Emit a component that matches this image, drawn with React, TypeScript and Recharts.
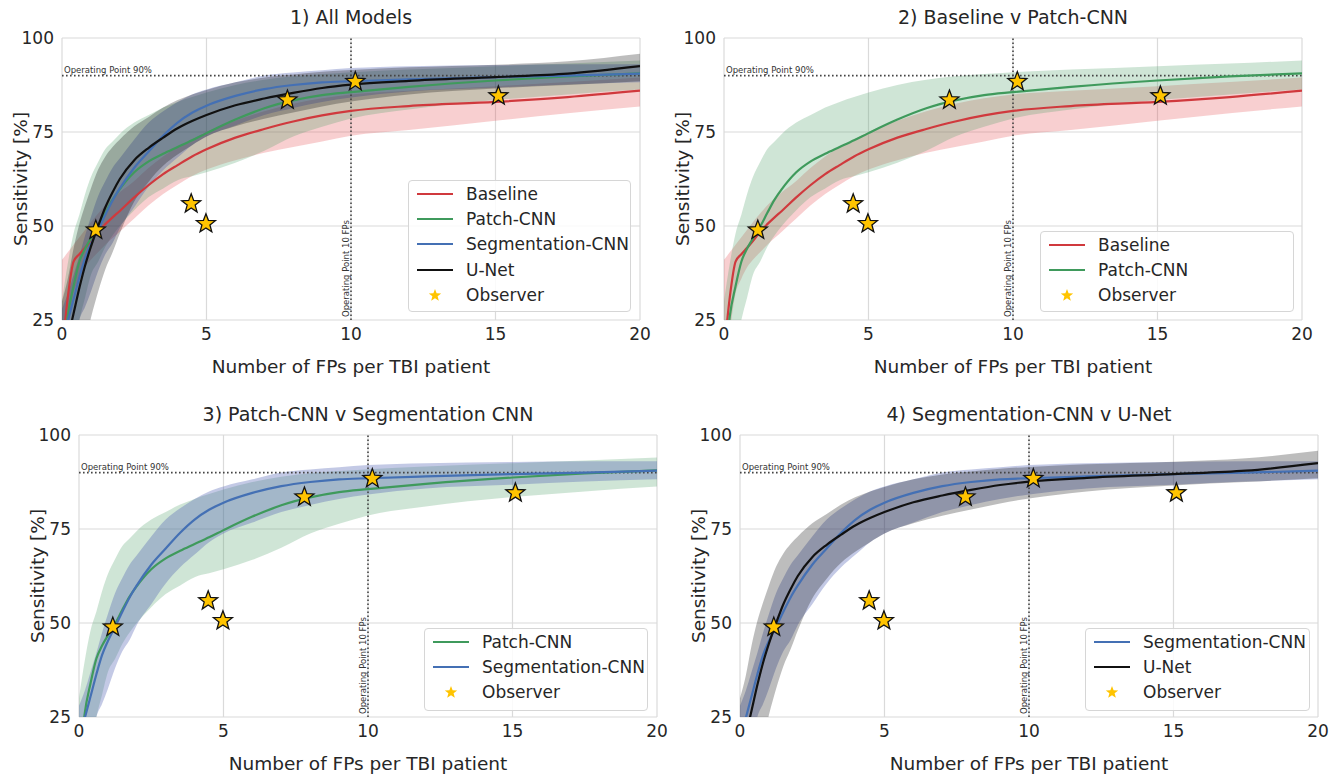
import React from 'react';
import { ComposedChart, Line, Area, Scatter, XAxis, YAxis, CartesianGrid, ReferenceLine, Legend } from 'recharts';

const FONT = '"DejaVu Sans", Verdana, sans-serif';
const TEXT = '#262626';

// FPs per patient (x grid shared by all curves)
const fps = [0, 0.2, 0.4, 0.6, 0.8, 1, 1.25, 1.5, 1.75, 2, 2.5, 3, 3.5, 4, 4.5, 5, 6, 7, 8, 9, 10, 12, 15, 17.5, 20];

// sensitivity [%] per model: mean curve and band
const baselineSens = [16, 31, 40.5, 42.5, 44.2, 46, 48.5, 50.5, 52.3, 54, 57.6, 60.9, 63.8, 66.2, 68.5, 70.4, 73.5, 75.8, 77.8, 79.4, 80.6, 81.9, 83, 84.3, 86];
const baselineLow = [10, 22, 32, 36, 39, 41, 43, 45, 46.8, 48.5, 52, 55.5, 58.5, 61, 63.3, 65, 67.5, 69.5, 71, 72.5, 74, 75.5, 78, 80, 81.8];
const baselineHigh = [41, 43, 45, 47, 49, 51, 53.3, 55.5, 57.3, 59, 62, 65.5, 68.5, 71, 73, 75, 78, 80.5, 82.5, 84, 85, 86, 87.2, 88.3, 89.5];

const patchSens = [10, 26, 34, 40.5, 44, 46.7, 49.8, 53.5, 57, 59.8, 64.3, 67.2, 69.2, 71, 72.8, 74.7, 78.3, 81.3, 83.4, 84.8, 85.6, 87, 88.7, 89.8, 90.6];
const patchLow = [5, 10, 17, 25, 31, 37, 40.5, 44.5, 47.5, 50, 54.2, 57.7, 60, 62.2, 63.2, 64.3, 66.8, 70, 73.8, 76.4, 78.6, 81, 83.5, 85, 86.3];
const patchHigh = [30, 40, 48, 53, 58.5, 63, 67, 70.5, 72.5, 74.5, 77.5, 79.5, 81.5, 83, 84.3, 85.5, 87.5, 88.9, 89.8, 90.4, 90.9, 91.6, 92.5, 93.2, 94];

const segSens = [19, 24.7, 30.5, 36.3, 41.5, 45.2, 49, 53, 56.8, 60, 65.5, 69.8, 74, 77.5, 80.1, 82, 84.6, 86.4, 87.5, 88.2, 88.5, 89, 89.6, 90, 90.5];
const segLow = [5, 12, 18, 25, 28.5, 32.5, 38, 42.5, 45.5, 49.5, 55, 60.5, 64.8, 68.2, 71.5, 73.8, 76.7, 79.5, 81.4, 83, 84.2, 85.8, 86.8, 87.6, 88.2];
const segHigh = [28, 32, 37, 42, 47.5, 52.4, 58, 62, 65.5, 68, 73, 77.5, 80.5, 83, 85, 86.3, 88.2, 90, 90.8, 91.4, 92, 92.5, 92.8, 93, 93];

const unetSens = [13.5, 20, 26.7, 33.5, 39.5, 44.5, 50, 55, 59, 62.5, 67.5, 70.8, 73.5, 76, 77.9, 79.5, 82.1, 83.9, 85.4, 86.7, 87.6, 88.6, 89.6, 90.5, 92.5];
const unetLow = [5, 7, 10, 14, 19, 25.5, 32.5, 38.5, 43, 48, 56.5, 61.8, 66, 69, 71.5, 73.8, 76.5, 78.5, 80.2, 81.8, 83.1, 85, 86.6, 87.5, 88.5];
const unetHigh = [30, 36, 44, 50.5, 55.5, 60, 65, 68.5, 71, 73, 76.5, 79, 81.5, 83.5, 85, 86.2, 88.2, 89.5, 90.3, 91, 91.5, 92.2, 92.9, 93.8, 95.8];

// human observers
const observerFps = [1.17, 4.47, 4.98, 7.8, 10.15, 15.1];
const observerSens = [48.9, 55.9, 50.6, 83.5, 88.4, 84.6];

const xTicks = [0, 5, 10, 15, 20];
const yTicks = [25, 50, 75, 100];

const rows = fps.map((x, i) => ({
  x,
  baseline: baselineSens[i],
  baselineBand: [baselineLow[i], baselineHigh[i]],
  patch: patchSens[i],
  patchBand: [patchLow[i], patchHigh[i]],
  seg: segSens[i],
  segBand: [segLow[i], segHigh[i]],
  unet: unetSens[i],
  unetBand: [unetLow[i], unetHigh[i]],
}));

const observer = observerFps.map((x, i) => ({ x, obs: observerSens[i] }));

const models: Record<string, { name: string; color: string; band: string; opacity: number }> = {
  baseline: { name: 'Baseline', color: '#d0393d', band: '#e5474b', opacity: 0.26 },
  patch: { name: 'Patch-CNN', color: '#3f9a5c', band: '#4f9f68', opacity: 0.27 },
  seg: { name: 'Segmentation-CNN', color: '#4470b4', band: '#4a5cb0', opacity: 0.33 },
  unet: { name: 'U-Net', color: '#111111', band: '#000000', opacity: 0.26 },
};

const starPath = (cx: number, cy: number, R: number) => {
  const r = R * 0.42;
  let d = '';
  for (let k = 0; k < 10; k++) {
    const rad = k % 2 === 0 ? R : r;
    const a = -Math.PI / 2 + (k * Math.PI) / 5;
    d += `${k === 0 ? 'M' : 'L'}${cx + rad * Math.cos(a)},${cy + rad * Math.sin(a)}`;
  }
  return d + 'Z';
};

const StarShape = (props: any) => {
  const { cx, cy } = props;
  if (cx == null || cy == null) return null;
  return <path d={starPath(cx, cy, 10)} fill="#FFC400" stroke="#111" strokeWidth={1.3} strokeLinejoin="miter" />;
};

interface Panel {
  title: string;
  keys: string[];
  left: number;
  top: number;
  width: number;
  height: number;
  margin: { top: number; right: number; bottom: number; left: number };
  titleY: number;
  legend: { left: number; top: number; width: number; height: number };
}

const panels: Panel[] = [
  {
    title: '1) All Models', keys: ['baseline', 'patch', 'seg', 'unet'],
    left: 0, top: 0, width: 670, height: 387,
    margin: { top: 38, right: 30, bottom: 37, left: 12 }, titleY: 17,
    legend: { left: 408, top: 180, width: 223, height: 132 },
  },
  {
    title: '2) Baseline v Patch-CNN', keys: ['baseline', 'patch'],
    left: 670, top: 0, width: 671, height: 387,
    margin: { top: 38, right: 39, bottom: 37, left: 4 }, titleY: 17,
    legend: { left: 370, top: 231, width: 254, height: 81 },
  },
  {
    title: '3) Patch-CNN v Segmentation CNN', keys: ['patch', 'seg'],
    left: 0, top: 390, width: 670, height: 384,
    margin: { top: 45, right: 13, bottom: 27, left: 29 }, titleY: 24,
    legend: { left: 424, top: 238, width: 224, height: 83 },
  },
  {
    title: '4) Segmentation-CNN v U-Net', keys: ['seg', 'unet'],
    left: 670, top: 390, width: 671, height: 384,
    margin: { top: 45, right: 23, bottom: 27, left: 20 }, titleY: 24,
    legend: { left: 415, top: 238, width: 225, height: 83 },
  },
];

const LegendBox = ({ keys }: { keys: string[] }) => (
  <div
    style={{
      width: '100%', height: '100%', boxSizing: 'border-box',
      border: '1px solid #d6d6d6', borderRadius: 4, background: 'rgba(255,255,255,0.85)',
      fontFamily: FONT, fontSize: 17, color: TEXT, paddingTop: 0,
    }}
  >
    {[...keys, 'observer'].map((k) => (
      <div key={k} style={{ height: 25.3, display: 'flex', alignItems: 'center', paddingLeft: 8 }}>
        <svg width={36} height={14} style={{ marginRight: 13, flex: 'none' }}>
          {k === 'observer' ? (
            <path d={starPath(18, 7.5, 6.5)} fill="#FFC400" />
          ) : (
            <line x1={0} x2={36} y1={7} y2={7} stroke={models[k].color} strokeWidth={2.2} />
          )}
        </svg>
        <span style={{ whiteSpace: 'nowrap' }}>{k === 'observer' ? 'Observer' : models[k].name}</span>
      </div>
    ))}
  </div>
);

const FrocPanel = ({ panel }: { panel: Panel }) => {
  const { margin } = panel;
  const plotLeft = margin.left + 50;
  const plotW = panel.width - margin.right - plotLeft;
  const plotH = panel.height - margin.top - margin.bottom - 30;

  const yLabel = () => {
    const cx = margin.left + 8;
    const cy = margin.top + plotH / 2;
    return (
      <text x={cx} y={cy} transform={`rotate(-90 ${cx} ${cy})`} textAnchor="middle" dominantBaseline="central"
        fontSize={18.5} fontFamily={FONT} fill={TEXT}>
        Sensitivity [%]
      </text>
    );
  };

  const xLabel = () => (
    <text x={plotLeft + plotW / 2} y={margin.top + plotH + 46} textAnchor="middle" dominantBaseline="central"
      fontSize={18.5} fontFamily={FONT} fill={TEXT}>
      Number of FPs per TBI patient
    </text>
  );

  const label90 = (p: any) => {
    const vb = p.viewBox || {};
    return (
      <text x={vb.x + 2} y={vb.y - 3} fontSize={8.5} fontFamily={FONT} fill="#333">
        Operating Point 90%
      </text>
    );
  };

  const label10 = (p: any) => {
    const vb = p.viewBox || {};
    const x = vb.x - 2;
    const y = vb.y + vb.height - 3;
    return (
      <text x={x} y={y} transform={`rotate(-90 ${x} ${y})`} fontSize={8.5} fontFamily={FONT} fill="#333">
        Operating Point 10 FPs
      </text>
    );
  };

  return (
    <div style={{ position: 'absolute', left: panel.left, top: panel.top, width: panel.width, height: panel.height }}>
      <ComposedChart width={panel.width} height={panel.height} data={rows} margin={margin}>
        <CartesianGrid stroke="#dadada" strokeWidth={1.2} />
        <XAxis
          type="number" dataKey="x" domain={[0, 20]} ticks={xTicks} allowDataOverflow height={30}
          axisLine={false} tickLine={false} tick={{ fontSize: 17, fill: TEXT, fontFamily: FONT }}
          label={xLabel}
        />
        <YAxis
          type="number" domain={[25, 100]} ticks={yTicks} allowDataOverflow width={50}
          axisLine={false} tickLine={false} tick={{ fontSize: 17, fill: TEXT, fontFamily: FONT }}
          label={yLabel}
        />
        {panel.keys.map((k) => (
          <Area
            key={k + 'Band'} dataKey={k + 'Band'} type="monotone" stroke="none"
            fill={models[k].band} fillOpacity={models[k].opacity} isAnimationActive={false} activeDot={false}
          />
        ))}
        <ReferenceLine y={90} stroke="#444" strokeWidth={1.6} strokeDasharray="1.6 2.4" label={label90} />
        <ReferenceLine x={10} stroke="#444" strokeWidth={1.6} strokeDasharray="1.6 2.4" label={label10} />
        {panel.keys.map((k) => (
          <Line
            key={k} dataKey={k} type="monotone" stroke={models[k].color} strokeWidth={2.2}
            dot={false} activeDot={false} isAnimationActive={false}
          />
        ))}
        <Scatter data={observer} dataKey="obs" shape={StarShape} isAnimationActive={false} />
        <Legend
          layout="vertical" align="center" verticalAlign="middle"
          wrapperStyle={{ left: panel.legend.left, top: panel.legend.top, width: panel.legend.width, height: panel.legend.height }}
          content={() => <LegendBox keys={panel.keys} />}
        />
      </ComposedChart>
      <div
        style={{
          position: 'absolute', left: plotLeft, width: plotW, top: panel.titleY - 12, height: 24,
          lineHeight: '24px', textAlign: 'center', fontFamily: FONT, fontSize: 19, color: TEXT,
        }}
      >
        {panel.title}
      </div>
    </div>
  );
};

export default function App() {
  return (
    <div style={{ position: 'absolute', left: 0, top: 0, width: 1341, height: 774, background: '#fff' }}>
      {panels.map((p) => (
        <FrocPanel key={p.title} panel={p} />
      ))}
    </div>
  );
}
